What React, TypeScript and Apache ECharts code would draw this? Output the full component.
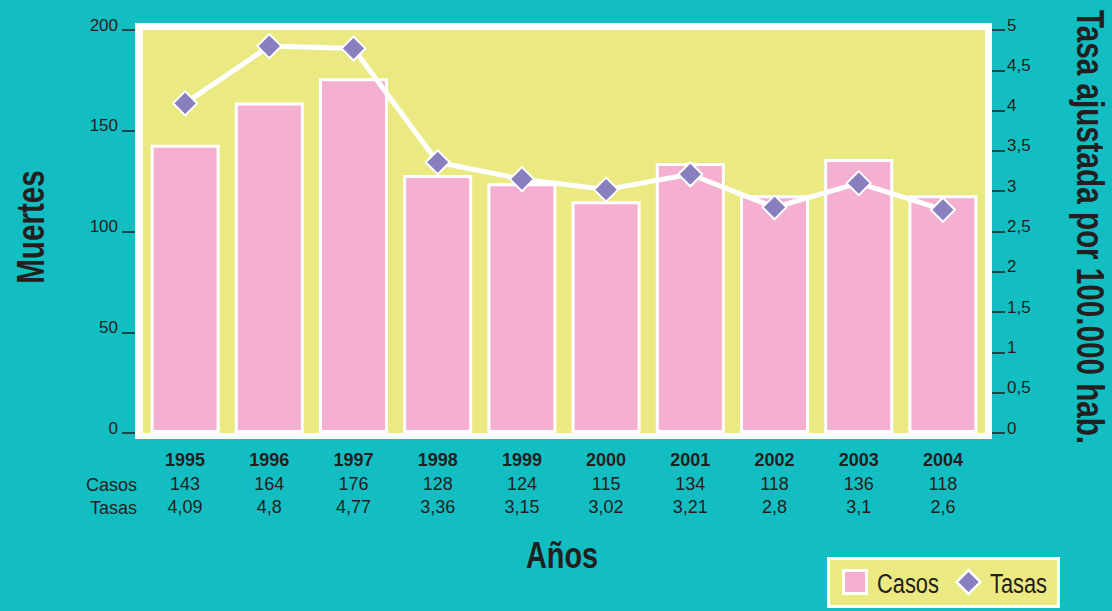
import React, { useEffect, useRef } from "react";
import * as echarts from "echarts";

const years = ["1995", "1996", "1997", "1998", "1999", "2000", "2001", "2002", "2003", "2004"];
const casos = [143, 164, 176, 128, 124, 115, 134, 118, 136, 118];
const tasas = [4.09, 4.8, 4.77, 3.36, 3.15, 3.02, 3.21, 2.8, 3.1, 2.77];
const tasaLabels = ["4,09", "4,8", "4,77", "3,36", "3,15", "3,02", "3,21", "2,8", "3,1", "2,6"];
const legendNames = ["Casos", "Tasas"];

const FONT = "'Liberation Sans', Arial, sans-serif";
const TEXT = "#231f20";
const BG = "#13bec3";
const YELLOW = "#ebe981";
const PINK = "#f5afd0";
const PURPLE = "#8a7fbe";
const NARROW = 0.78;

export default function App() {
  const ref = useRef<HTMLDivElement>(null);
  useEffect(() => {
    if (!ref.current) return;
    const chart = echarts.init(ref.current, null, { renderer: "svg" });
    const fmt = (v: number) => String(v).replace(".", ",");
    const dx = 968.5;
    const dy = 582;
    const dr = 12;
    chart.setOption({
      animation: false,
      backgroundColor: BG,
      textStyle: { fontFamily: FONT, color: TEXT },
      grid: {
        left: 143,
        right: 127,
        top: 30,
        bottom: 178,
        show: true,
        backgroundColor: YELLOW,
        borderWidth: 0,
      },
      graphic: [
        {
          type: "rect",
          z: -1,
          shape: { x: 135, y: 23, width: 857, height: 416 },
          style: { fill: "#ffffff" },
        },
        {
          type: "text",
          x: 137,
          y: 485,
          style: { text: "Casos", font: `18px ${FONT}`, fill: TEXT, textAlign: "right", textVerticalAlign: "middle" },
        },
        {
          type: "text",
          x: 137,
          y: 508,
          style: { text: "Tasas", font: `18px ${FONT}`, fill: TEXT, textAlign: "right", textVerticalAlign: "middle" },
        },
        {
          type: "text",
          x: 562,
          y: 555,
          scaleX: NARROW,
          style: { text: "Años", font: `bold 37px ${FONT}`, fill: TEXT, textAlign: "center", textVerticalAlign: "middle" },
        },
        {
          type: "text",
          x: 31,
          y: 227,
          rotation: Math.PI / 2,
          scaleX: NARROW,
          style: { text: "Muertes", font: `bold 38px ${FONT}`, fill: TEXT, textAlign: "center", textVerticalAlign: "middle" },
        },
        {
          type: "text",
          x: 1090,
          y: 227,
          rotation: -Math.PI / 2,
          scaleX: NARROW,
          style: {
            text: "Tasa ajustada por 100.000 hab.",
            font: `bold 38px ${FONT}`,
            fill: TEXT,
            textAlign: "center",
            textVerticalAlign: "middle",
          },
        },
        {
          type: "group",
          children: [
            {
              type: "rect",
              shape: { x: 828.5, y: 558.5, width: 230, height: 48 },
              style: { fill: YELLOW, stroke: "#ffffff", lineWidth: 3 },
            },
            {
              type: "rect",
              shape: { x: 843.5, y: 570.5, width: 23, height: 23 },
              style: { fill: PINK, stroke: "#ffffff", lineWidth: 3 },
            },
            {
              type: "text",
              x: 877,
              y: 583,
              scaleX: NARROW,
              style: { text: legendNames[0], font: `28px ${FONT}`, fill: TEXT, textAlign: "left", textVerticalAlign: "middle" },
            },
            {
              type: "polygon",
              shape: { points: [[dx, dy - dr], [dx + dr, dy], [dx, dy + dr], [dx - dr, dy]] },
              style: { fill: PURPLE, stroke: "#ffffff", lineWidth: 2.5 },
            },
            {
              type: "text",
              x: 990,
              y: 583,
              scaleX: NARROW,
              style: { text: legendNames[1], font: `28px ${FONT}`, fill: TEXT, textAlign: "left", textVerticalAlign: "middle" },
            },
          ],
        },
      ],
      xAxis: {
        type: "category",
        data: years,
        axisLine: { show: false },
        axisTick: { show: false },
        axisLabel: {
          margin: 15,
          interval: 0,
          formatter: (v: string, i: number) => `{y|${v}}\n{n|${casos[i]}}\n{n|${tasaLabels[i]}}`,
          rich: {
            y: { fontFamily: FONT, fontSize: 18, fontWeight: "bold", lineHeight: 24, color: TEXT },
            n: { fontFamily: FONT, fontSize: 18, lineHeight: 23, color: TEXT },
          },
        },
      },
      yAxis: [
        {
          type: "value",
          min: 0,
          max: 200,
          interval: 50,
          position: "left",
          offset: 8,
          splitLine: { show: false },
          axisLine: { show: false },
          axisTick: { show: true, length: 13, lineStyle: { color: TEXT, width: 1.5 } },
          axisLabel: {
            margin: 17,
            fontFamily: FONT,
            fontSize: 17,
            color: TEXT,
            verticalAlign: "bottom",
            lineHeight: 10,
          },
        },
        {
          type: "value",
          min: 0,
          max: 5,
          interval: 0.5,
          position: "right",
          offset: 7,
          splitLine: { show: false },
          axisLine: { show: false },
          axisTick: { show: true, length: 13, lineStyle: { color: TEXT, width: 1.5 } },
          axisLabel: {
            margin: 15,
            fontFamily: FONT,
            fontSize: 17,
            color: TEXT,
            verticalAlign: "bottom",
            lineHeight: 10,
            formatter: fmt,
          },
        },
      ],
      series: [
        {
          name: "Casos",
          type: "bar",
          data: casos,
          barWidth: "82%",
          yAxisIndex: 0,
          itemStyle: { color: PINK, borderColor: "#ffffff", borderWidth: 3 },
        },
        {
          name: "Tasas",
          type: "line",
          data: tasas,
          yAxisIndex: 1,
          symbol: "diamond",
          symbolSize: 24,
          lineStyle: { color: "#ffffff", width: 5 },
          itemStyle: { color: PURPLE, borderColor: "#ffffff", borderWidth: 2 },
          z: 3,
        },
      ],
    });
    return () => chart.dispose();
  }, []);
  return <div ref={ref} style={{ position: "fixed", left: 0, top: 0, width: 1112, height: 611 }} />;
}
